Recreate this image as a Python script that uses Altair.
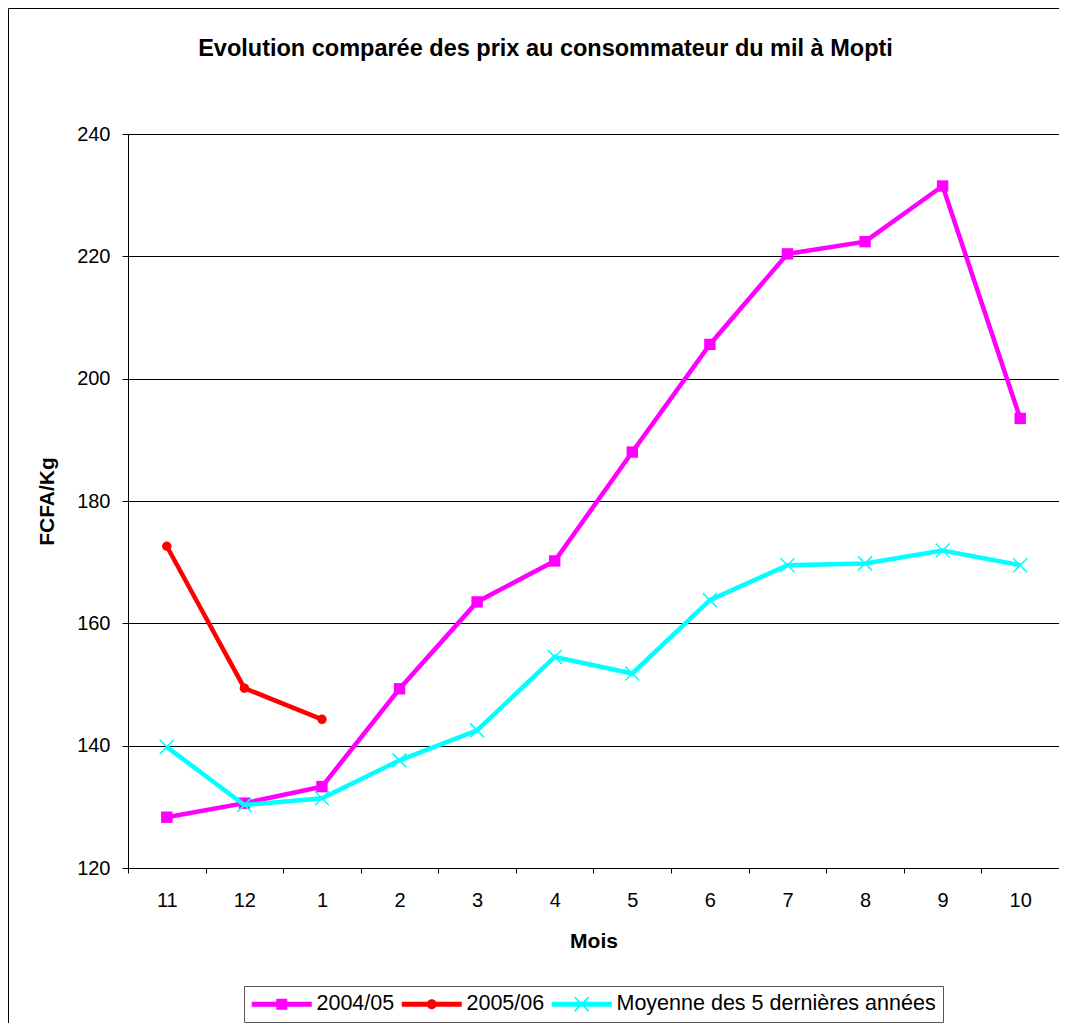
import altair as alt
import pandas as pd

months = ["11", "12", "1", "2", "3", "4", "5", "6", "7", "8", "9", "10"]
series_names = ["2004/05", "2005/06", "Moyenne des 5 dernières années"]
series_colors = ["#FF00FF", "#FF0000", "#00FFFF"]

prix_2004_05 = [128.3, 130.6, 133.3, 149.3, 163.5, 170.2, 188.0, 205.6, 220.4, 222.4, 231.5, 193.5]
prix_2005_06 = [172.6, 149.4, 144.3]
prix_moyenne = [139.8, 130.3, 131.4, 137.6, 142.5, 154.5, 151.8, 163.8, 169.5, 169.8, 171.9, 169.5]

y_ticks = [120, 140, 160, 180, 200, 220, 240]

rows = []
for s, vals in zip(series_names, [prix_2004_05, prix_2005_06, prix_moyenne]):
    for m, v in zip(months, vals):
        rows.append({"mois": m, "serie": s, "prix": v})
df = pd.DataFrame(rows)

FONT = "Liberation Sans"

x_enc = alt.X(
    "mois:N",
    scale=alt.Scale(type="band", domain=months, paddingInner=0, paddingOuter=0),
    axis=alt.Axis(
        title="Mois", labelAngle=0, tickBand="extent", tickSize=5, labelPadding=17,
        labelFontSize=20, labelFont=FONT, labelColor="black",
        titleFontSize=21, titleFont=FONT, titleFontWeight="bold", titleColor="black",
        titlePadding=20, domainColor="black", tickColor="black", grid=False,
    ),
)
y_enc = alt.Y(
    "prix:Q",
    scale=alt.Scale(domain=[120, 240], nice=False, zero=False),
    axis=alt.Axis(
        title="FCFA/Kg", values=y_ticks, tickSize=6, labelPadding=12,
        labelFontSize=20, labelFont=FONT, labelColor="black",
        titleFontSize=21, titleFont=FONT, titleFontWeight="bold", titleColor="black",
        titlePadding=19, domainColor="black", tickColor="black",
        grid=True, gridColor="black", gridWidth=1,
    ),
)

base = alt.Chart(df)

x_path = "M-1,-1L1,1M-1,1L1,-1"
marker_specs = [
    dict(shape="square", filled=True, size=130, strokeWidth=0),
    dict(shape="circle", filled=True, size=90, strokeWidth=0),
    dict(shape=x_path, filled=False, size=196, strokeWidth=1.6),
]

layers = []
for s, c, spec in zip(series_names, series_colors, marker_specs):
    sub = base.transform_filter(alt.datum.serie == s)
    layers.append(sub.mark_line(color=c, strokeWidth=4.5).encode(x=x_enc, y=y_enc))
    layers.append(sub.mark_point(color=c, opacity=1, **spec).encode(x=x_enc, y=y_enc))

# legend symbols: line segment + marker (unit = 10px at size 400)
line_seg = "M-1,-0.25L5,-0.25L5,0.25L-1,0.25Z"
leg_square = line_seg + "M1.45,-0.55L2.55,-0.55L2.55,0.55L1.45,0.55Z"
leg_circle = line_seg + "M1.5,0A0.5,0.5 0 1,1 2.5,0A0.5,0.5 0 1,1 1.5,0Z"
leg_x = (line_seg
         + "M1.357,-0.757L2.757,0.643L2.643,0.757L1.243,-0.643Z"
         + "M1.357,0.757L1.243,0.643L2.643,-0.757L2.757,-0.643Z")

legend = alt.Legend(
    title=None, orient="none", legendX=116, legendY=852, direction="horizontal",
    symbolSize=400, symbolStrokeWidth=0, symbolOpacity=1, labelOffset=44,
    labelFontSize=21.5, labelFont=FONT, labelColor="black", labelLimit=0, columnPadding=6,
    strokeColor="#555555", fillColor="white", padding=7,
)
legend_layer = base.transform_filter("false").mark_point(filled=True, size=400).encode(
    x=x_enc, y=y_enc,
    color=alt.Color("serie:N", scale=alt.Scale(domain=series_names, range=series_colors), legend=legend),
    shape=alt.Shape("serie:N", scale=alt.Scale(domain=series_names, range=[leg_square, leg_circle, leg_x]), legend=legend),
)

border = alt.Chart(pd.DataFrame({"a": [0]})).mark_rect(
    fill=None, stroke="black", strokeWidth=1
).encode(
    x=alt.value(-119.5), x2=alt.value(940), y=alt.value(-125.5), y2=alt.value(920)
)

chart = alt.layer(border, *layers, legend_layer).properties(
    width=931, height=734,
    title=alt.TitleParams(
        "Evolution comparée des prix au consommateur du mil à Mopti",
        fontSize=23.5, font=FONT, fontWeight="bold", color="black",
        anchor="middle", frame="group", offset=-52, dx=-48,
    ),
    autosize=alt.AutoSizeParams(type="none"),
    padding={"left": 120, "top": 126, "right": 0, "bottom": 155},
).configure_view(stroke="#808080", strokeWidth=1).configure(background="white")

chart.save("out.html", embed_options={"renderer": "svg", "actions": False})
